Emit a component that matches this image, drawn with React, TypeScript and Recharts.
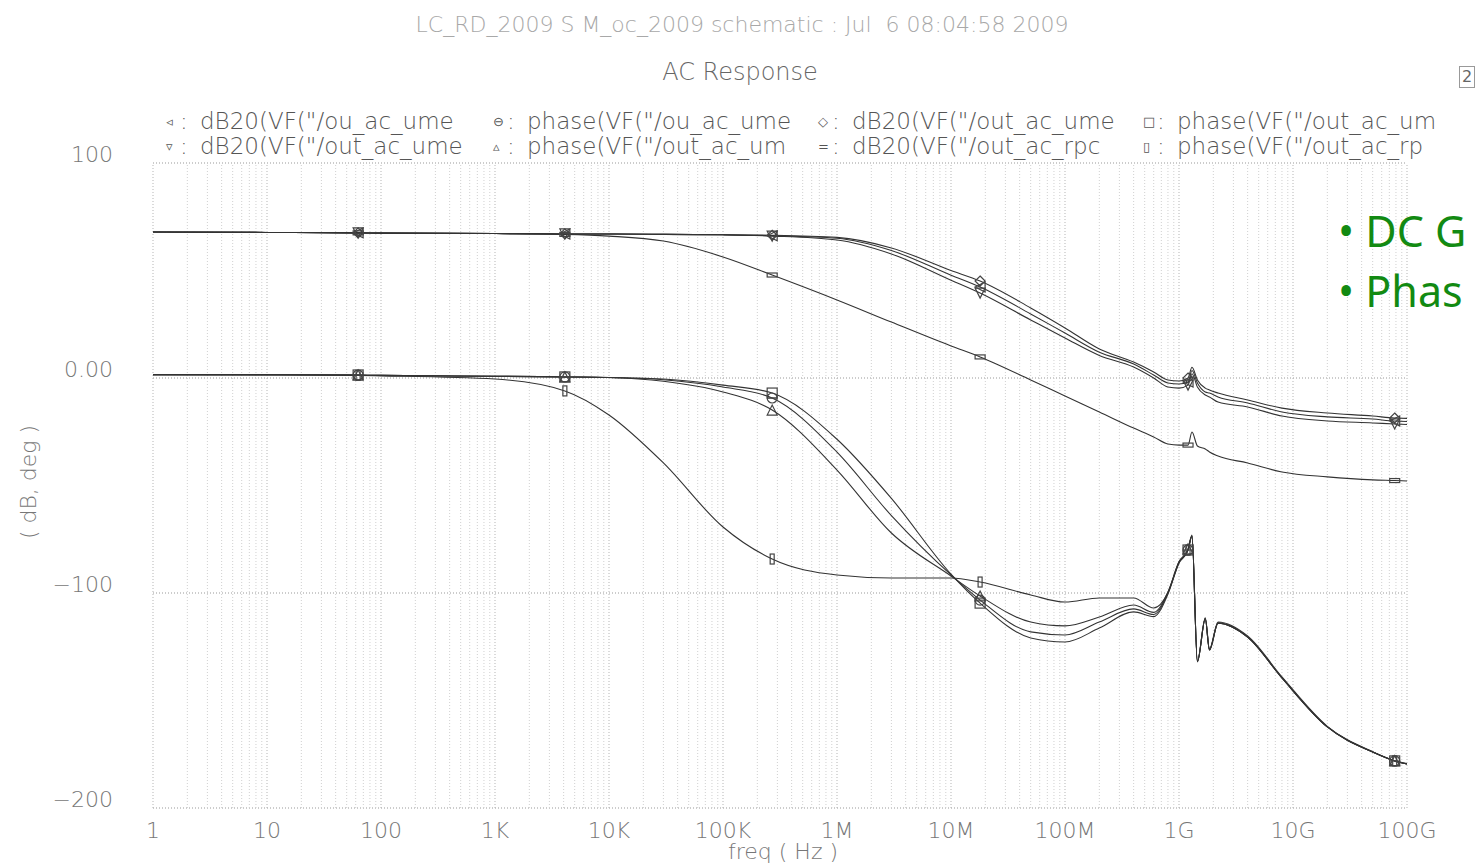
import React from "react";
import {
  LineChart,
  Line,
  XAxis,
  YAxis,
  CartesianGrid,
  ReferenceLine,
} from "recharts";

// frequency points (Hz) the curves are sampled at
const FREQS = [
  1, 10, 63, 100, 1e3, 4.1e3, 1e4, 3e4, 1e5, 2.7e5, 1e6, 3e6, 1e7, 1.8e7, 5e7,
  1e8, 2e8, 4e8, 6e8, 8e8, 1e9, 1.2e9, 1.3e9, 1.45e9, 1.7e9, 1.85e9, 2.2e9,
  4e9, 8e9, 2e10, 5e10, 7.8e10, 1e11,
];

// dB20 magnitudes
const MAG_OUT_UME = [
  67.9, 67.7, 67.5, 67.4, 67.2, 67.0, 67.0, 66.8, 66.6, 66.4, 65.4, 60.5, 50.0,
  45.1, 32.6, 23.3, 13.5, 7.4, 2.8, -0.9, -1.4, 0.0, 5.0, -0.9, -4.7, -5.6,
  -7.0, -10.2, -14.0, -16.3, -17.7, -18.6, -18.8,
];
const MAG_OU_UME = [
  67.9, 67.7, 67.5, 67.4, 67.2, 67.0, 67.0, 66.8, 66.6, 66.2, 65.0, 59.3, 47.8,
  42.3, 29.8, 20.9, 12.0, 6.5, 1.4, -2.3, -2.8, -1.9, 3.5, -2.3, -6.5, -7.0,
  -8.8, -11.6, -15.8, -18.1, -19.1, -20.0, -20.2,
];
const MAG_OUT_UME_2 = [
  67.9, 67.7, 67.5, 67.4, 67.2, 67.0, 67.0, 66.8, 66.6, 66.0, 64.2, 57.7, 45.5,
  39.5, 27.0, 18.6, 10.5, 5.1, 0.0, -4.2, -4.7, -3.3, 2.0, -4.2, -7.9, -8.8,
  -11.2, -13.5, -17.7, -20.0, -20.9, -21.4, -21.6,
];
const MAG_OUT_RPC = [
  67.9, 67.7, 67.5, 67.4, 67.2, 66.8, 66.0, 63.7, 56.3, 47.9, 36.3, 26.0, 14.9,
  9.8, -0.9, -8.4, -15.8, -23.3, -27.4, -30.7, -31.2, -31.2, -25.1, -31.6,
  -33.0, -34.4, -36.3, -39.5, -43.7, -46.0, -47.4, -47.7, -47.9,
];

// phases (deg)
const PH_OUT_UM = [
  1.5, 1.5, 1.4, 1.2, 0.8, 0.5, 0.2, -0.5, -3.3, -7.0, -28.5, -56.0, -91.2,
  -104.7, -120.9, -122.8, -116.3, -108.8, -111.0, -100.5, -86.0, -80.0, -73.5,
  -132.0, -112.0, -126.5, -114.0, -120.5, -139.5, -162.3, -174.0, -178.1,
  -179.5,
];
const PH_OU_UME = [
  1.5, 1.5, 1.4, 1.2, 0.8, 0.5, 0.2, -0.8, -4.2, -9.3, -34.5, -64.0, -91.6,
  -103.3, -118.1, -119.5, -113.5, -107.4, -110.0, -100.0, -86.0, -80.0, -73.5,
  -132.0, -112.0, -126.5, -114.0, -120.5, -139.5, -162.3, -174.0, -178.1,
  -179.5,
];
const PH_OUT_UM_2 = [
  1.5, 1.5, 1.4, 1.2, 0.8, 0.5, 0.2, -1.5, -6.5, -14.9, -42.8, -72.1, -92.1,
  -101.4, -113.5, -115.3, -111.2, -105.6, -109.0, -99.5, -85.5, -79.5, -73.0,
  -131.5, -111.5, -126.0, -113.5, -120.0, -139.0, -162.0, -173.8, -178.0,
  -179.3,
];
const PH_OUT_RP = [
  1.5, 1.4, 1.2, 1.0, -0.5, -6.0, -17.2, -39.5, -69.3, -84.2, -91.6, -93.0,
  -93.0, -94.9, -100.9, -104.2, -102.3, -102.3, -107.0, -99.8, -85.5, -80.0,
  -73.5, -132.0, -112.0, -126.5, -114.0, -120.5, -139.5, -162.3, -174.0,
  -178.1, -179.5,
];

const FREQ_TICKS = [1, 10, 100, 1e3, 1e4, 1e5, 1e6, 1e7, 1e8, 1e9, 1e10, 1e11];
const FREQ_LABELS = ["1", "10", "100", "1K", "10K", "100K", "1M", "10M", "100M", "1G", "10G", "100G"];
const Y_TICKS = [-200, -100, 0, 100];
const Y_LABELS = ["\u2212200", "\u2212100", "0.00", "100"];
const MARKER_FREQS = [63, 4.1e3, 2.7e5, 1.8e7, 1.2e9, 7.8e10];

const SERIES = [
  { key: "magOuUme", values: MAG_OU_UME, shape: "left" },
  { key: "phOuUme", values: PH_OU_UME, shape: "circle" },
  { key: "magOutUme", values: MAG_OUT_UME, shape: "diamond" },
  { key: "phOutUm", values: PH_OUT_UM, shape: "square" },
  { key: "magOutUme2", values: MAG_OUT_UME_2, shape: "down" },
  { key: "phOutUm2", values: PH_OUT_UM_2, shape: "up" },
  { key: "magOutRpc", values: MAG_OUT_RPC, shape: "hrect" },
  { key: "phOutRp", values: PH_OUT_RP, shape: "vrect" },
];

const LEGEND_ROW1 = [
  { sym: "\u25C3", text: "dB20(VF(\"/ou_ac_ume" },
  { sym: "\u2296", text: "phase(VF(\"/ou_ac_ume" },
  { sym: "\u25C7", text: "dB20(VF(\"/out_ac_ume" },
  { sym: "\u25A1", text: "phase(VF(\"/out_ac_um" },
];
const LEGEND_ROW2 = [
  { sym: "\u25BF", text: "dB20(VF(\"/out_ac_ume" },
  { sym: "\u25B5", text: "phase(VF(\"/out_ac_um" },
  { sym: "=", text: "dB20(VF(\"/out_ac_rpc" },
  { sym: "\u25AF", text: "phase(VF(\"/out_ac_rp" },
];

const data = FREQS.map((freq, i) => {
  const row: Record<string, number> = { freq };
  SERIES.forEach((s) => (row[s.key] = s.values[i]));
  return row;
});

// log minor grid: 1..9 x each decade
const gridFreqs: number[] = [];
for (let k = 0; k < 11; k++) {
  for (let m = 1; m < 10; m++) gridFreqs.push(m * Math.pow(10, k));
}
gridFreqs.push(1e11);

const FONT = "'DejaVu Sans', sans-serif";

function Marker({ shape, cx, cy }: { shape: string; cx: number; cy: number }) {
  const s = 5;
  const st = { stroke: "#444", strokeWidth: 1.2, fill: "none" };
  switch (shape) {
    case "diamond":
      return <polygon points={`${cx},${cy - s} ${cx + s},${cy} ${cx},${cy + s} ${cx - s},${cy}`} {...st} />;
    case "left":
      return <polygon points={`${cx - s},${cy} ${cx + s},${cy - s} ${cx + s},${cy + s}`} {...st} />;
    case "down":
      return <polygon points={`${cx - s},${cy - s} ${cx + s},${cy - s} ${cx},${cy + s}`} {...st} />;
    case "up":
      return <polygon points={`${cx - s},${cy + s} ${cx + s},${cy + s} ${cx},${cy - s}`} {...st} />;
    case "square":
      return <rect x={cx - s} y={cy - s} width={2 * s} height={2 * s} {...st} />;
    case "circle":
      return (
        <g>
          <circle cx={cx} cy={cy} r={s} {...st} />
          <line x1={cx - s} y1={cy} x2={cx + s} y2={cy} stroke="#444" />
        </g>
      );
    case "hrect":
      return <rect x={cx - 5} y={cy - 2} width={10} height={4} {...st} />;
    default:
      return <rect x={cx - 2} y={cy - 5} width={4} height={10} {...st} />;
  }
}

const makeDot = (shape: string) => (props: any) => {
  const { cx, cy, payload, index } = props;
  if (cx == null || cy == null || !MARKER_FREQS.includes(payload.freq)) {
    return <g key={`n-${index}`} />;
  }
  return (
    <g key={`m-${index}`}>
      <Marker shape={shape} cx={cx} cy={cy} />
    </g>
  );
};

const YTick = (props: any) => {
  const { x, y, payload } = props;
  const label = Y_LABELS[Y_TICKS.indexOf(payload.value)];
  return (
    <text x={x} y={y - 9} dy="0.355em" textAnchor="end" fill="#777" fontSize={22} fontFamily={FONT} fontWeight={200}>
      {label}
    </text>
  );
};

function LegendRow({ items, top }: { items: { sym: string; text: string }[]; top: number }) {
  const xs = [200, 527, 852, 1177];
  const txt = { position: "absolute" as const, top, fontSize: 23, fontWeight: 200, color: "#555", fontFamily: FONT, lineHeight: "23px", whiteSpace: "nowrap" as const };
  return (
    <>
      {items.map((it, i) => (
        <React.Fragment key={i}>
          <div style={{ position: "absolute", left: xs[i] - 34, top: top + 5, fontSize: 13, color: "#555", fontFamily: FONT, lineHeight: "14px" }}>
            {it.sym}
          </div>
          <div style={{ ...txt, left: xs[i] - 20 }}>:</div>
          <div style={{ ...txt, left: xs[i] }}>{it.text}</div>
        </React.Fragment>
      ))}
    </>
  );
}

export default function App() {
  const green = { position: "absolute" as const, left: 1338, fontFamily: "'Noto Sans', sans-serif", fontSize: 43, color: "#128a12", whiteSpace: "nowrap" as const, lineHeight: "56px" };
  return (
    <div style={{ position: "absolute", left: 0, top: 0, width: 1479, height: 868, overflow: "hidden", background: "#fff" }}>
      <div style={{ position: "absolute", left: 0, width: 1484, top: 12, textAlign: "center", fontFamily: FONT, fontWeight: 200, fontSize: 22, color: "#a8a8a8", whiteSpace: "pre" }}>
        LC_RD_2009 S M_oc_2009 schematic : Jul  6 08:04:58 2009
      </div>
      <div style={{ position: "absolute", left: 0, width: 1480, top: 58, textAlign: "center", fontFamily: FONT, fontWeight: 200, fontSize: 24, color: "#666" }}>
        AC Response
      </div>
      <div style={{ position: "absolute", left: 1459, top: 66, width: 14, height: 20, border: "1px solid #999", fontSize: 16, color: "#666", fontFamily: FONT, textAlign: "center", lineHeight: "20px" }}>
        2
      </div>

      <LegendRow items={LEGEND_ROW1} top={110} />
      <LegendRow items={LEGEND_ROW2} top={135} />

      <div style={{ position: "absolute", left: 28, top: 482, transform: "translate(-50%, -50%) rotate(-90deg)", whiteSpace: "nowrap", fontFamily: FONT, fontWeight: 200, fontSize: 22, color: "#777" }}>
        ( dB, deg )
      </div>
      <div style={{ position: "absolute", left: 783, top: 851, transform: "translate(-50%, -50%)", whiteSpace: "nowrap", fontFamily: FONT, fontWeight: 200, fontSize: 22, color: "#777" }}>
        freq ( Hz )
      </div>

      <div style={{ position: "absolute", left: 0, top: 0 }}>
        <LineChart width={1479} height={868} data={data} margin={{ top: 163, right: 72, bottom: 20, left: 33 }}>
          {gridFreqs.map((f) => (
            <ReferenceLine key={f} x={f} stroke={FREQ_TICKS.includes(f) ? "#b5b5b5" : "#d0d0d0"} strokeDasharray="1 2" />
          ))}
          <CartesianGrid vertical={false} stroke="#999" strokeDasharray="1 2" />
          <XAxis
            dataKey="freq"
            type="number"
            scale="log"
            domain={[1, 1e11]}
            ticks={FREQ_TICKS}
            interval={0}
            allowDataOverflow
            tickFormatter={(v: number) => FREQ_LABELS[FREQ_TICKS.indexOf(v)] ?? ""}
            axisLine={false}
            tickLine={false}
            height={40}
            tickMargin={8}
            tick={{ fill: "#777", fontSize: 22, fontFamily: FONT, fontWeight: 200 }}
          />
          <YAxis
            type="number"
            domain={[-200, 100]}
            ticks={Y_TICKS}
            interval={0}
            allowDataOverflow
            width={120}
            axisLine={false}
            tickLine={false}
            tickMargin={34}
            tick={<YTick />}
          />
          {SERIES.map((s) => (
            <Line
              key={s.key}
              dataKey={s.key}
              type="monotone"
              stroke="#333"
              strokeWidth={1.1}
              dot={makeDot(s.shape)}
              activeDot={false}
              isAnimationActive={false}
            />
          ))}
        </LineChart>
      </div>

      <div style={{ ...green, top: 203 }}>• DC G</div>
      <div style={{ ...green, top: 263 }}>• Phas</div>
    </div>
  );
}
